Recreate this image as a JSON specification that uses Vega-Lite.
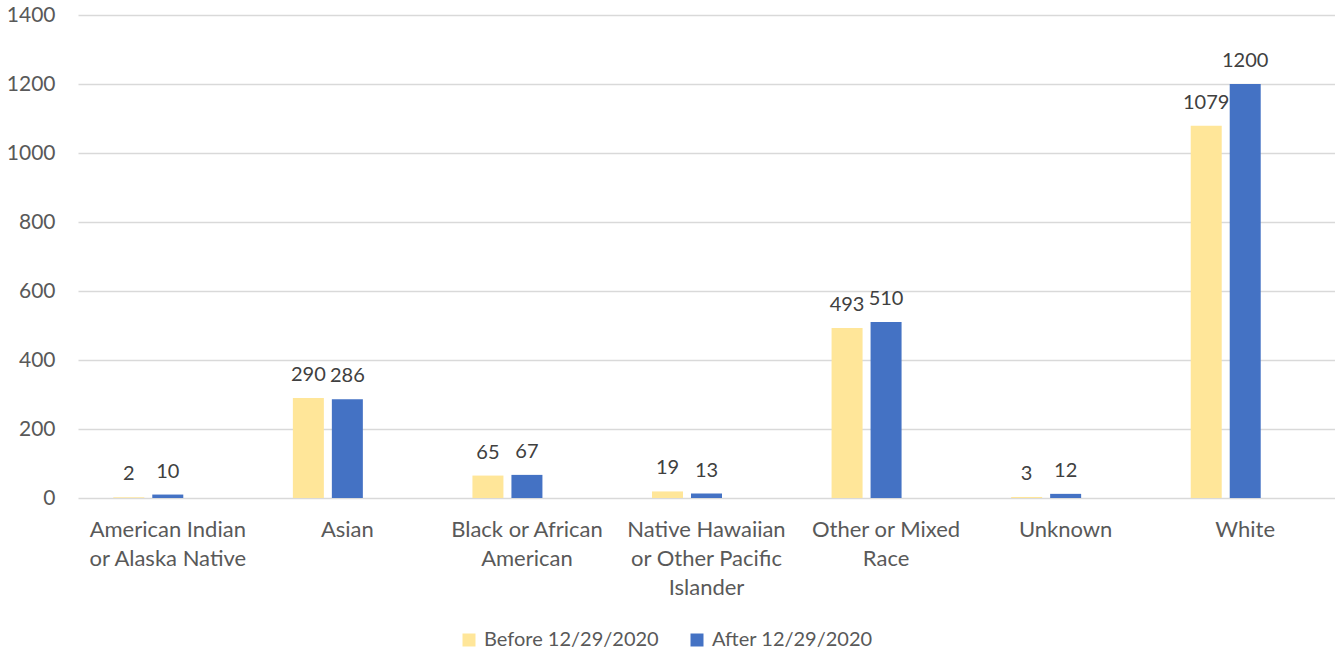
{
  "$schema": "https://vega.github.io/schema/vega-lite/v6.json",
  "width": 1257,
  "height": 483,
  "autosize": {"type": "none"},
  "padding": {"left": 78, "top": 15, "right": 0, "bottom": 158},
  "background": "white",
  "config": {
    "view": {"stroke": null},
    "font": "Lato",
    "axis": {"labelFont": "Lato", "labelColor": "#595959", "labelFontSize": 20},
    "legend": {"labelFont": "Lato", "labelColor": "#595959", "labelFontSize": 20}
  },
  "data": {
    "values": [
      {"race": "American Indian or Alaska Native", "period": "Before 12/29/2020", "count": 2},
      {"race": "American Indian or Alaska Native", "period": "After 12/29/2020", "count": 10},
      {"race": "Asian", "period": "Before 12/29/2020", "count": 290},
      {"race": "Asian", "period": "After 12/29/2020", "count": 286},
      {"race": "Black or African American", "period": "Before 12/29/2020", "count": 65},
      {"race": "Black or African American", "period": "After 12/29/2020", "count": 67},
      {"race": "Native Hawaiian or Other Pacific Islander", "period": "Before 12/29/2020", "count": 19},
      {"race": "Native Hawaiian or Other Pacific Islander", "period": "After 12/29/2020", "count": 13},
      {"race": "Other or Mixed Race", "period": "Before 12/29/2020", "count": 493},
      {"race": "Other or Mixed Race", "period": "After 12/29/2020", "count": 510},
      {"race": "Unknown", "period": "Before 12/29/2020", "count": 3},
      {"race": "Unknown", "period": "After 12/29/2020", "count": 12},
      {"race": "White", "period": "Before 12/29/2020", "count": 1079},
      {"race": "White", "period": "After 12/29/2020", "count": 1200}
    ]
  },
  "encoding": {
    "x": {
      "field": "race",
      "type": "nominal",
      "sort": null,
      "scale": {"paddingInner": 0, "paddingOuter": 0},
      "axis": {
        "title": null,
        "labelAngle": 0,
        "ticks": false,
        "domain": false,
        "labelFontSize": 22,
        "labelLimit": 0,
        "labelPadding": 31,
        "labelLineHeight": 29,
        "labelBaseline": "middle",
        "labelExpr": "datum.value == 'American Indian or Alaska Native' ? ['American Indian', 'or Alaska Native'] : datum.value == 'Black or African American' ? ['Black or African', 'American'] : datum.value == 'Native Hawaiian or Other Pacific Islander' ? ['Native Hawaiian', 'or Other Pacific', 'Islander'] : datum.value == 'Other or Mixed Race' ? ['Other or Mixed', 'Race'] : datum.value"
      }
    },
    "xOffset": {
      "field": "period",
      "type": "nominal",
      "scale": {
        "domain": ["Before 12/29/2020", "After 12/29/2020", "(blank)"],
        "paddingInner": 0.205,
        "paddingOuter": 0.905
      }
    },
    "y": {
      "field": "count",
      "type": "quantitative",
      "scale": {"domain": [0, 1400]},
      "axis": {
        "title": null,
        "values": [0, 200, 400, 600, 800, 1000, 1200, 1400],
        "format": "d",
        "ticks": false,
        "domain": false,
        "labelFontSize": 21,
        "labelPadding": 23,
        "gridColor": "#D9D9D9",
        "gridWidth": 1.5
      }
    }
  },
  "layer": [
    {
      "mark": {"type": "bar"},
      "encoding": {
        "color": {
          "field": "period",
          "type": "nominal",
          "scale": {
            "domain": ["Before 12/29/2020", "After 12/29/2020"],
            "range": ["#FFE699", "#4472C4"]
          },
          "legend": {
            "title": null,
            "orient": "none",
            "direction": "horizontal",
            "legendX": 381,
            "legendY": 615,
            "symbolType": "square",
            "symbolSize": 169,
            "symbolStrokeWidth": 0,
            "labelLimit": 0,
            "columnPadding": 28,
            "labelOffset": 5
          }
        }
      }
    },
    {
      "mark": {"type": "text", "baseline": "alphabetic", "dy": -17, "fontSize": 20, "color": "#404040", "font": "Lato"},
      "encoding": {
        "text": {"field": "count", "type": "quantitative"}
      }
    }
  ]
}
